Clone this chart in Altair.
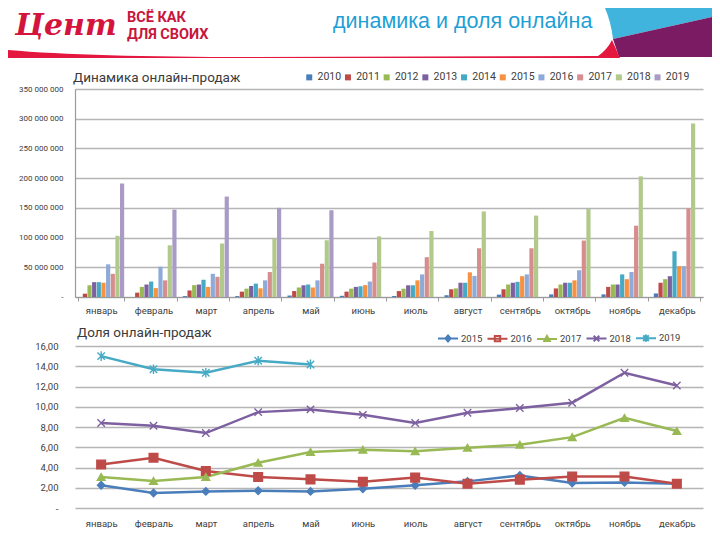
import altair as alt
import pandas as pd

FONT = "Roboto"

MONTHS = ["январь", "февраль", "март", "апрель", "май", "июнь",
          "июль", "август", "сентябрь", "октябрь", "ноябрь", "декабрь"]

# ---- Online sales dynamics (millions of rubles) ----
BAR_YEARS = ["2010", "2011", "2012", "2013", "2014", "2015", "2016", "2017", "2018", "2019"]
BAR_COLORS = ["#4a7ebb", "#be4b48", "#98b954", "#7d60a0", "#46aac5",
              "#f69240", "#8eaad8", "#d68d8d", "#b2c98c", "#a99bc6"]
sales_2010 = [0, 0, 1.5, 1.5, 2.5, 2, 1.7, 3, 4, 4.4, 4.4, 6]
sales_2011 = [5.6, 7.3, 11, 9, 10, 9, 10, 13, 13, 14.4, 17, 24]
sales_2012 = [19.7, 17, 20, 14, 16, 14, 14, 14.5, 21, 21, 21, 30]
sales_2013 = [25, 21, 21, 18.5, 19.7, 17, 19.7, 24, 24, 24, 21, 35]
sales_2014 = [25, 26, 29, 22.5, 21, 18, 19.7, 24, 25.5, 24, 38, 77]
sales_2015 = [24, 15, 17, 14.6, 16, 20, 28, 41.5, 35, 28, 30, 52]
sales_2016 = [55, 51, 39, 28, 28, 26, 38, 35.5, 38, 45, 42, 52]
sales_2017 = [39, 28, 34, 42, 56, 58, 67, 82, 82, 95, 120, 149]
sales_2018 = [103, 87, 90, 98, 95.5, 102, 111, 144, 137, 148, 203, 292]
sales_2019 = [191, 147, 169, 150, 146, None, None, None, None, None, None, None]
SALES = [sales_2010, sales_2011, sales_2012, sales_2013, sales_2014,
         sales_2015, sales_2016, sales_2017, sales_2018, sales_2019]
SALES_TICKS = [0, 50e6, 100e6, 150e6, 200e6, 250e6, 300e6, 350e6]

# ---- Online share (%) ----
LINE_YEARS = ["2015", "2016", "2017", "2018", "2019"]
LINE_COLORS = ["#4a7ebb", "#be4b48", "#98b954", "#7d60a0", "#46aac5"]
share_2015 = [2.24, 1.48, 1.64, 1.71, 1.64, 1.9, 2.24, 2.63, 3.22, 2.47, 2.53, 2.4]
share_2016 = [4.3, 4.97, 3.65, 3.06, 2.83, 2.6, 3.0, 2.4, 2.8, 3.12, 3.12, 2.4]
share_2017 = [3.06, 2.66, 3.06, 4.47, 5.53, 5.76, 5.6, 5.95, 6.25, 7.0, 8.9, 7.6]
share_2018 = [8.39, 8.12, 7.4, 9.47, 9.74, 9.2, 8.39, 9.4, 9.87, 10.4, 13.36, 12.1]
share_2019 = [15.0, 13.7, 13.36, 14.54, 14.18, None, None, None, None, None, None, None]
SHARES = [share_2015, share_2016, share_2017, share_2018, share_2019]
SHARE_TICKS = [0, 2, 4, 6, 8, 10, 12, 14, 16]

bar_rows = []
for yr, vals in zip(BAR_YEARS, SALES):
    for m, v in zip(MONTHS, vals):
        if v is not None:
            bar_rows.append({"month": m, "year": yr, "value": v * 1e6})
bar_df = pd.DataFrame(bar_rows)

line_rows = []
for yr, vals in zip(LINE_YEARS, SHARES):
    for m, v in zip(MONTHS, vals):
        if v is not None:
            line_rows.append({"month": m, "year": yr, "share": v})
line_df = pd.DataFrame(line_rows)

one = pd.DataFrame({"k": [0]})

GRID = "#b5b5b5"
AXC = "#9a9a9a"
LBL = "#404040"


def text(t, x, y, size, color, font=FONT, align="left", weight="normal", style="normal"):
    return alt.Chart(one).mark_text(
        text=t, align=align, baseline="middle", font=font, fontSize=size,
        color=color, fontWeight=weight, fontStyle=style
    ).encode(x=alt.value(x), y=alt.value(y))


def deco(path, color):
    # decorative header shape drawn in page pixels (anchor at page origin)
    return alt.Chart(one).mark_point(
        shape=path, size=4, filled=True, color=color, strokeWidth=0, opacity=1
    ).encode(x=alt.value(-75), y=alt.value(-89))


# ---------------- top chart ----------------
bars = alt.Chart(bar_df).mark_bar().encode(
    x=alt.X("month:N", sort=MONTHS, title=None,
            scale=alt.Scale(paddingInner=0.12, paddingOuter=0.06),
            axis=alt.Axis(labelAngle=0, labelFont=FONT, labelFontSize=9.5, labelColor=LBL,
                          tickBand="extent", ticks=True, tickSize=4, tickColor=AXC,
                          domainColor=AXC, domainWidth=1.2, labelPadding=4, grid=False)),
    xOffset=alt.XOffset("year:N", sort=BAR_YEARS, scale=alt.Scale(paddingInner=0.1)),
    y=alt.Y("value:Q", title=None, scale=alt.Scale(domain=[0, 350e6], nice=False),
            axis=alt.Axis(values=SALES_TICKS,
                          labelExpr="datum.value == 0 ? '-' : replace(format(datum.value, ','), regexp(',', 'g'), ' ')",
                          labelFont=FONT, labelFontSize=8, labelColor=LBL, labelPadding=12,
                          ticks=False, domain=True, domainColor=AXC, domainWidth=1.2,
                          gridColor=GRID, gridWidth=1.3, minExtent=67, maxExtent=67)),
    color=alt.Color("year:N", sort=BAR_YEARS,
                    scale=alt.Scale(domain=BAR_YEARS, range=BAR_COLORS),
                    legend=alt.Legend(orient="none", legendX=229, legendY=-17, direction="horizontal",
                                      columns=10, title=None, symbolType="square", symbolSize=36,
                                      symbolStrokeWidth=0, labelFont=FONT, labelFontSize=10.5,
                                      labelColor=LBL, labelOffset=3, columnPadding=0.7)),
)

header = [
    deco("M605,8 L712,8 L712,17 L613,39 Q611,22 605,8 Z", "#40b4dc"),
    deco("M613,39 L712,17 L712,57 L619,57 Z", "#7a1b64"),
    deco("M8,50 Q90,57 250,57 L598,56 Q607,50 612,40 L620,58 L8,58 Z", "#e4173f"),
    text("Цент", -60, -63, 30, "#d4143c", font="DejaVu Serif", weight="bold", style="italic"),
    text("ВСЁ КАК", 52, -71.5, 14.5, "#c8163d", font="Roboto", weight="bold"),
    text("ДЛЯ СВОИХ", 52, -54, 14.5, "#c8163d", font="Roboto", weight="bold"),
    text("динамика и доля онлайна", 258, -67, 21.5, "#1f9fd5", font="Liberation Sans"),
    text("Динамика онлайн-продаж", -2, -11, 13.5, "#3a3a3a"),
]

top = alt.layer(*header, bars).properties(width=628, height=208)

# ---------------- bottom chart ----------------
X2 = alt.X("month:N", sort=MONTHS, title=None,
           scale=alt.Scale(type="point", padding=0.5),
           axis=alt.Axis(labelAngle=0, labelFont=FONT, labelFontSize=9.5, labelColor=LBL,
                         ticks=False, domain=False, labelPadding=10, grid=False))
Y2 = alt.Y("share:Q", title=None, scale=alt.Scale(domain=[0, 16], nice=False),
           axis=alt.Axis(values=SHARE_TICKS,
                         labelExpr="datum.value == 0 ? '-' : replace(format(datum.value, '.2f'), '.', ',')",
                         labelFont=FONT, labelFontSize=9.5, labelColor=LBL, labelPadding=17,
                         ticks=False, domain=False, gridColor=GRID, gridWidth=1.3,
                         minExtent=67, maxExtent=67))

STROKE2 = alt.Stroke("year:N", scale=alt.Scale(domain=LINE_YEARS, range=LINE_COLORS), legend=None)
FILL2 = alt.Fill("year:N", scale=alt.Scale(domain=LINE_YEARS, range=LINE_COLORS), legend=None)

lines = alt.Chart(line_df).mark_line(strokeWidth=2.5).encode(x=X2, y=Y2, stroke=STROKE2)

MARKERS = {
    "2015": ("diamond", 55, True),
    "2016": ("square", 75, True),
    "2017": ("triangle-up", 60, True),
    "2018": ("M-1,-1L1,1M1,-1L-1,1", 55, False),
    "2019": ("M-1,-1L1,1M1,-1L-1,1M0,-1.3L0,1.3", 55, False),
}
marker_layers = []
for yr in LINE_YEARS:
    shp, sz, fl = MARKERS[yr]
    enc = {"x": X2, "y": Y2, "stroke": STROKE2}
    if fl:
        enc["fill"] = FILL2
    marker_layers.append(
        alt.Chart(line_df).transform_filter(alt.datum.year == yr).mark_point(
            shape=shp, size=sz, filled=fl, strokeWidth=1.4, opacity=1
        ).encode(**enc)
    )

LEG_PATHS = [
    "M-1,0L1,0M0,-0.3L0.26,0L0,0.3L-0.26,0Z",
    "M-1,0L1,0M-0.27,-0.27L0.27,-0.27L0.27,0.27L-0.27,0.27Z",
    "M-1,0L1,0M0,-0.3L0.28,0.22L-0.28,0.22Z",
    "M-1,0L1,0M-0.28,-0.28L0.28,0.28M0.28,-0.28L-0.28,0.28",
    "M-1,0L1,0M-0.28,-0.28L0.28,0.28M0.28,-0.28L-0.28,0.28M0,-0.36L0,0.36",
]


def leg():
    return alt.Legend(orient="none", legendX=362, legendY=-19, direction="horizontal",
                      columns=5, title=None, symbolSize=400, symbolStrokeWidth=2,
                      labelFont=FONT, labelFontSize=9.5, labelColor=LBL, labelOffset=2,
                      columnPadding=0.5)


legend_layer = alt.Chart(line_df).transform_filter("false").mark_point(
    filled=False, strokeWidth=2, opacity=1
).encode(
    x=X2, y=Y2,
    color=alt.Color("year:N", scale=alt.Scale(domain=LINE_YEARS, range=LINE_COLORS), legend=leg()),
    shape=alt.Shape("year:N", scale=alt.Scale(domain=LINE_YEARS, range=LEG_PATHS), legend=leg()),
)

title2 = text("Доля онлайн-продаж", 2, -13, 13.5, "#3a3a3a")

bottom = alt.layer(lines, *marker_layers, legend_layer, title2).properties(width=628, height=162)

chart = (
    alt.vconcat(top, bottom, spacing=11)
    .resolve_scale(color="independent", shape="independent")
    .properties(padding=0)
    .configure_view(stroke=None)
)

chart.save("out.html", embed_options={"renderer": "svg", "actions": False})
